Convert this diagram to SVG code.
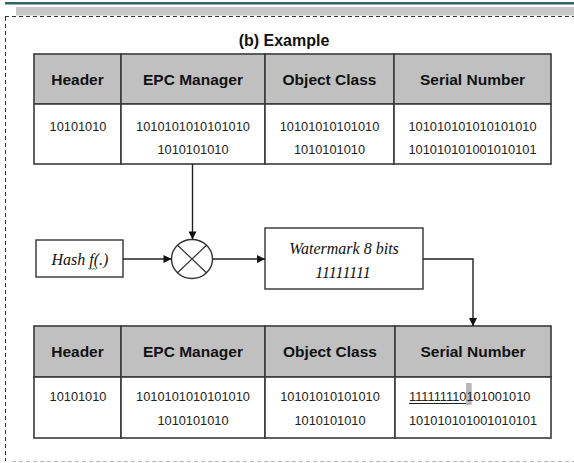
<svg xmlns="http://www.w3.org/2000/svg" width="574" height="463" viewBox="0 0 574 463">
  <style>
    .frame { fill: none; stroke: #333; stroke-width: 1; stroke-dasharray: 4 3; }
    .frame-light { fill: none; stroke: #b8b8b8; stroke-width: 1; stroke-dasharray: 4 3; }
    .cell { fill: #ffffff; stroke: #3a3a3a; stroke-width: 1.6; }
    .head { fill: #c0c0c0; stroke: #3a3a3a; stroke-width: 1.6; }
    .box { fill: #ffffff; stroke: #333; stroke-width: 1.4; }
    .wire { fill: none; stroke: #222; stroke-width: 1.4; }
    .title { font-family: "Liberation Sans", Arial, sans-serif; font-weight: bold; font-size: 16px; fill: #111; text-anchor: middle; }
    .hdr { font-family: "Liberation Sans", Arial, sans-serif; font-weight: bold; font-size: 15.5px; fill: #111; text-anchor: middle; }
    .bits { font-family: "Liberation Sans", Arial, sans-serif; font-size: 12.8px; fill: #222; text-anchor: middle; }
    .bits-start { font-family: "Liberation Sans", Arial, sans-serif; font-size: 12.8px; fill: #222; }
    .ital { font-family: "Liberation Serif", "Times New Roman", serif; font-style: italic; font-size: 16px; fill: #111; text-anchor: middle; }
  </style>
  <defs>
    <marker id="arrow" viewBox="0 0 10 10" refX="10" refY="5" markerWidth="9" markerHeight="8" markerUnits="userSpaceOnUse" orient="auto">
      <path d="M0,0 L10,5 L0,10 Z" fill="#111"/>
    </marker>
  </defs>

  <!-- page header rule and band -->
  <rect x="5" y="2" width="569" height="2.5" fill="#2f6767"/>
  <rect x="16" y="7" width="558" height="8.5" fill="#c8c8c8"/>

  <!-- dashed frame -->
  <g id="frame">
    <line class="frame" x1="5" y1="16.5" x2="574" y2="16.5"/>
    <line class="frame" x1="5.5" y1="17" x2="5.5" y2="461"/>
    <line class="frame-light" x1="12" y1="461.5" x2="574" y2="461.5"/>
  </g>

  <text class="title" x="284" y="46">(b) Example</text>

  <!-- EPC code, original -->
  <g id="epc-original">
    <rect class="head" x="34" y="54" width="87" height="50"/>
    <rect class="head" x="121" y="54" width="144" height="50"/>
    <rect class="head" x="265" y="54" width="129" height="50"/>
    <rect class="head" x="394" y="54" width="157" height="50"/>
    <rect class="cell" x="34" y="104" width="87" height="60"/>
    <rect class="cell" x="121" y="104" width="144" height="60"/>
    <rect class="cell" x="265" y="104" width="129" height="60"/>
    <rect class="cell" x="394" y="104" width="157" height="60"/>
    <text class="hdr" x="77.5" y="84.5">Header</text>
    <text class="hdr" x="193" y="84.5">EPC Manager</text>
    <text class="hdr" x="329.5" y="84.5">Object Class</text>
    <text class="hdr" x="472.5" y="84.5">Serial Number</text>
    <text class="bits" x="78" y="131">10101010</text>
    <text class="bits" x="193" y="131">1010101010101010</text>
    <text class="bits" x="193" y="154">1010101010</text>
    <text class="bits" x="329.5" y="131">10101010101010</text>
    <text class="bits" x="329.5" y="154">1010101010</text>
    <text class="bits" x="472.5" y="131">101010101010101010</text>
    <text class="bits" x="472.5" y="154">101010101001010101</text>
  </g>

  <!-- hash function -->
  <g id="hash">
    <rect class="box" x="36" y="240" width="87" height="37"/>
    <text class="ital" x="80" y="265">Hash f(.)</text>
    <path d="M88,268 l1.5,1.5 l1.5,-1.5 l1.5,1.5 l1.5,-1.5 l1.5,1.5 l1.5,-1.5" fill="none" stroke="#2a9a2a" stroke-width="0.9"/>
  </g>

  <!-- combining operator -->
  <g id="mixer">
    <ellipse cx="192" cy="259" rx="20.5" ry="19.5" fill="#fff" stroke="#333" stroke-width="1.4"/>
    <line x1="177.5" y1="245.2" x2="206.5" y2="272.8" stroke="#333" stroke-width="1.2"/>
    <line x1="206.5" y1="245.2" x2="177.5" y2="272.8" stroke="#333" stroke-width="1.2"/>
  </g>

  <!-- watermark -->
  <g id="watermark">
    <rect class="box" x="265" y="228" width="158" height="61"/>
    <text class="ital" x="344" y="254">Watermark 8 bits</text>
    <text class="ital" x="343" y="278">11111111</text>
  </g>

  <!-- EPC code, watermarked -->
  <g id="epc-marked">
    <rect class="head" x="34" y="326" width="87" height="51"/>
    <rect class="head" x="121" y="326" width="144" height="51"/>
    <rect class="head" x="265" y="326" width="130" height="51"/>
    <rect class="head" x="395" y="326" width="156" height="51"/>
    <rect class="cell" x="34" y="377" width="87" height="61"/>
    <rect class="cell" x="121" y="377" width="144" height="61"/>
    <rect class="cell" x="265" y="377" width="130" height="61"/>
    <rect class="cell" x="395" y="377" width="156" height="61"/>
    <text class="hdr" x="77.5" y="357">Header</text>
    <text class="hdr" x="193" y="357">EPC Manager</text>
    <text class="hdr" x="330" y="357">Object Class</text>
    <text class="hdr" x="473" y="357">Serial Number</text>
    <text class="bits" x="78" y="401">10101010</text>
    <text class="bits" x="193" y="401">1010101010101010</text>
    <text class="bits" x="193" y="425">1010101010</text>
    <text class="bits" x="330" y="401">10101010101010</text>
    <text class="bits" x="330" y="425">1010101010</text>
    <rect x="466" y="383" width="5.7" height="22" fill="#b8b8b8"/>
    <text class="bits-start" x="409" y="401">111111110101001010</text>
    <line x1="409" y1="403.5" x2="466" y2="403.5" stroke="#222" stroke-width="1"/>
    <text class="bits-start" x="409" y="425">101010101001010101</text>
  </g>

  <!-- connectors -->
  <g id="connectors">
    <line class="wire" x1="192.5" y1="164" x2="192.5" y2="239.5" marker-end="url(#arrow)"/>
    <line class="wire" x1="123" y1="259" x2="171.5" y2="259" marker-end="url(#arrow)"/>
    <line class="wire" x1="212.5" y1="259" x2="265" y2="259" marker-end="url(#arrow)"/>
    <polyline class="wire" points="423,259 473,259 473,326" marker-end="url(#arrow)"/>
  </g>
</svg>
